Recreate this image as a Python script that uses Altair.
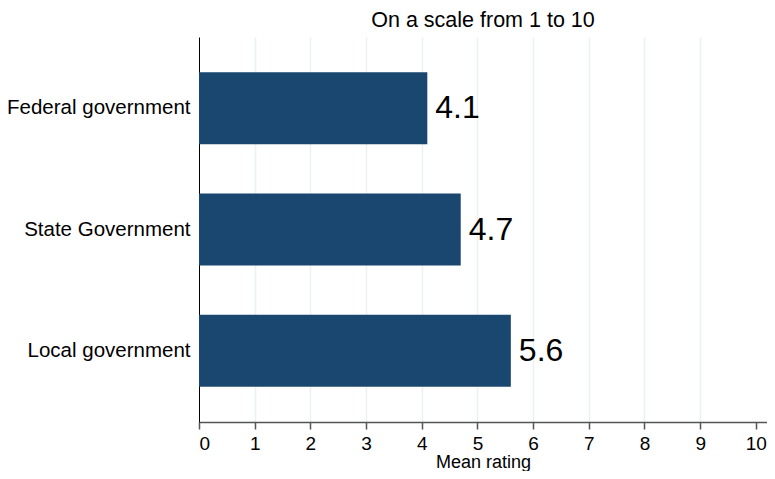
import altair as alt
import pandas as pd

categories = ["Federal government", "State Government", "Local government"]
values = [4.1, 4.7, 5.6]
labels = ["4.1", "4.7", "5.6"]
x_ticks = [0, 1, 2, 3, 4, 5, 6, 7, 8, 9, 10]

df = pd.DataFrame({"cat": categories, "val": values, "lab": labels})

FONT = "Liberation Sans"

y_enc = alt.Y("cat:N", sort=categories, title=None,
              scale=alt.Scale(paddingInner=0.405, paddingOuter=0.29),
              axis=alt.Axis(domain=True, domainColor="#000000", domainWidth=1,
                            ticks=False, grid=False, labelFontSize=20.5,
                            labelLimit=400,
                            labelColor="#000000", labelPadding=9, labelFont=FONT))
x_enc = alt.X("val:Q", title="Mean rating",
              scale=alt.Scale(domain=[0, 10.2], nice=False, zero=True),
              axis=alt.Axis(values=x_ticks, format="d", grid=True,
                            gridColor="#eaf2f3", gridWidth=1.5,
                            gridOpacity=alt.expr("datum.value == 0 || datum.value == 10 ? 0 : 1"),
                            domainColor="#555555", domainWidth=1.5,
                            tickColor="#555555", tickSize=7, tickWidth=1.5,
                            labelFontSize=19, labelColor="#000000", labelPadding=5,
                            labelFont=FONT, titleFont=FONT, titleFontSize=18,
                            titleFontWeight="normal", titleColor="#000000",
                            titleBaseline="alphabetic", titleY=45))

bars = alt.Chart(df).mark_bar(color="#1a476f").encode(y=y_enc, x=x_enc)
text = alt.Chart(df).mark_text(align="left", baseline="middle", dx=8, fontSize=32,
                               font=FONT, color="#000000").encode(
    y=alt.Y("cat:N", sort=categories), x=alt.X("val:Q"), text="lab:N")

chart = alt.layer(bars, text).properties(
    width=568, height=385,
    title=alt.TitleParams("On a scale from 1 to 10", fontSize=21.5, font=FONT,
                          fontWeight="normal", color="#000000", anchor="middle",
                          offset=6),
    autosize=alt.AutoSizeParams(type="none"),
    padding={"left": 191, "top": 29, "right": 0, "bottom": 49},
).configure_view(stroke=None)

chart.save("out.html", embed_options={"renderer": "svg", "actions": False})
